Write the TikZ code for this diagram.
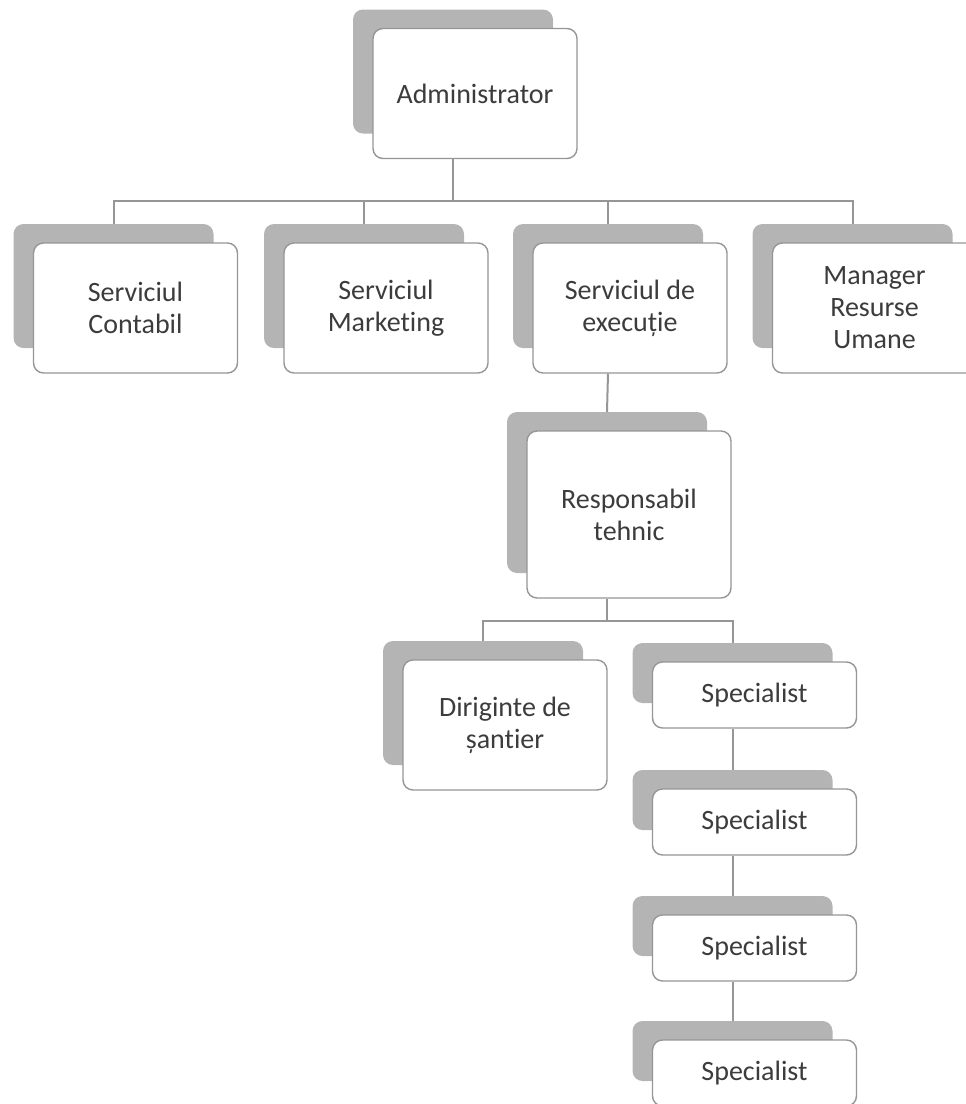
\documentclass[tikz,border=0pt]{standalone}
\usepackage{fontspec}
\setmainfont{Carlito}[Ligatures=NoCommon]
\begin{document}
\begin{tikzpicture}[x=1pt,y=-1pt]
	% Couleurs
	\definecolor{gristrait}{RGB}{150,150,150}
	\definecolor{grisombre}{RGB}{180,180,180}
	\definecolor{gristexte}{RGB}{60,60,60}
	% Styles (MODIFIABLES)
	\tikzstyle{lien}=[-,draw=gristrait,line width=2pt]
	\tikzstyle{cadre}=[draw=gristrait,line width=1.4pt,fill=white,rounded corners=10pt,minimum width=204pt,minimum height=130pt,inner sep=0pt,align=center,text=gristexte,font=\fontsize{28}{32}\selectfont]
	\tikzstyle{ombre}=[fill=grisombre,rounded corners=10pt,minimum width=200pt,minimum height=124pt,inner sep=0pt]
	% Dimensions (MODIFIABLES)
	\def\DecalX{-22}
	\def\DecalY{-22}
	\def\NiveauA{93.5}
	\def\NiveauB{308}
	\def\NiveauC{514.5}
	\def\NiveauD{725}
	\def\BarreA{201}
	\def\BarreB{621}
	\useasboundingbox (0,0) rectangle (966,1104);
	% Noeuds
	\node[ombre] (oA) at ({475+\DecalX},{\NiveauA+\DecalY}) {};
	\node[cadre] (A) at (475,{\NiveauA}) {Administrator};
	%
	\node[ombre] (oAa) at ({135.5+\DecalX},{\NiveauB+\DecalY}) {};
	\node[cadre] (Aa) at (135.5,{\NiveauB}) {Serviciul\\Contabil};
	\node[ombre] (oAb) at ({386+\DecalX},{\NiveauB+\DecalY}) {};
	\node[cadre] (Ab) at (386,{\NiveauB}) {Serviciul\\Marketing};
	\node[ombre,minimum width=190pt] (oAc) at ({630+\DecalX},{\NiveauB+\DecalY}) {};
	\node[cadre,minimum width=194pt] (Ac) at (630,{\NiveauB}) {Serviciul de\\execuție};
	\node[ombre] (oAd) at ({874.5+\DecalX},{\NiveauB+\DecalY}) {};
	\node[cadre] (Ad) at (874.5,{\NiveauB}) {Manager\\Resurse\\Umane};
	%
	\node[ombre,minimum height=161pt] (oAca) at ({629+\DecalX},{\NiveauC+\DecalY}) {};
	\node[cadre,minimum height=167pt] (Aca) at (629,{\NiveauC}) {Responsabil\\tehnic};
	%
	\node[ombre] (oAcaa) at ({505+\DecalX},{\NiveauD+\DecalY}) {};
	\node[cadre] (Acaa) at (505,{\NiveauD}) {Diriginte de\\șantier};
	\node[ombre,minimum height=60pt] (oAcab) at ({754.5+\DecalX},{695+\DecalY}) {};
	\node[cadre,minimum height=66pt] (Acab) at (754.5,695) {Specialist};
	\node[ombre,minimum height=60pt] (oAcac) at ({754.5+\DecalX},{822+\DecalY}) {};
	\node[cadre,minimum height=66pt] (Acac) at (754.5,822) {Specialist};
	\node[ombre,minimum height=60pt] (oAcad) at ({754.5+\DecalX},{948+\DecalY}) {};
	\node[cadre,minimum height=66pt] (Acad) at (754.5,948) {Specialist};
	\node[ombre,minimum height=60pt] (oAcae) at ({754.5+\DecalX},{1073+\DecalY}) {};
	\node[cadre,minimum height=66pt] (Acae) at (754.5,1073) {Specialist};
	% Barres
	\coordinate (bA) at (453,{\BarreA});
	\coordinate (bB) at (607,{\BarreB});
	% Arcs
	\draw[lien] (oA.south |- A.south) -- (oA.south |- bA) -| (oAa.north);
	\draw[lien] (oA.south |- A.south) -- (oA.south |- bA) -| (oAb.north);
	\draw[lien] (oA.south |- A.south) -- (oA.south |- bA) -| (oAc.north);
	\draw[lien] (oA.south |- A.south) -- (oA.south |- bA) -| (oAd.north);
	\draw[lien] (oAc.south |- Ac.south) -- (oAca.north);
	\draw[lien] (oAca.south |- Aca.south) -- (oAca.south |- bB) -| (oAcaa.north);
	\draw[lien] (oAca.south |- Aca.south) -- (oAca.south |- bB) -| (oAcab.north);
	\draw[lien] (oAcab.south |- Acab.south) -- (oAcac.north);
	\draw[lien] (oAcac.south |- Acac.south) -- (oAcad.north);
	\draw[lien] (oAcad.south |- Acad.south) -- (oAcae.north);
\end{tikzpicture}
\end{document}
